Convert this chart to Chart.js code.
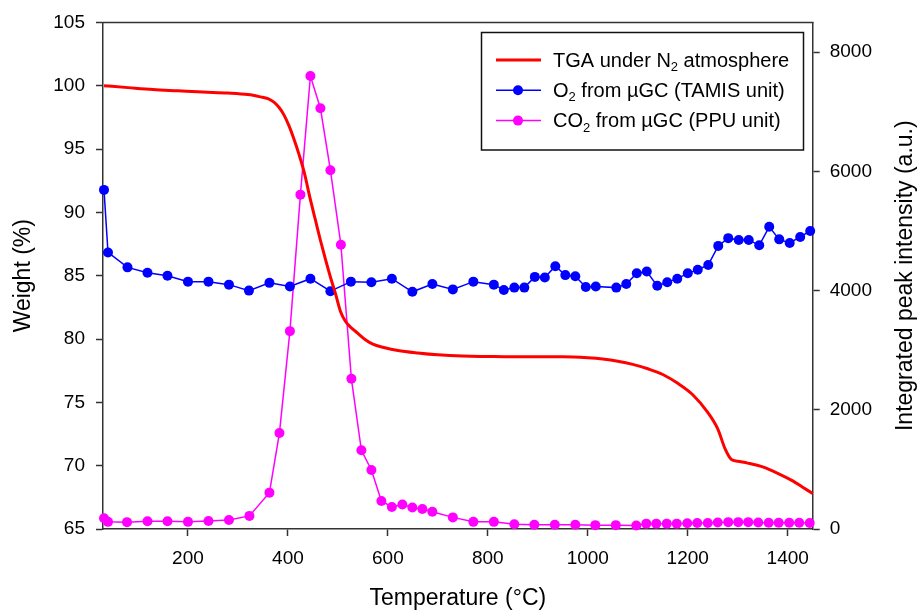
<!DOCTYPE html>
<html>
<head>
<meta charset="utf-8">
<title>TGA / µGC</title>
<script src="https://cdn.jsdelivr.net/npm/chart.js@4.4.1/dist/chart.umd.min.js"></script>
<style>
  html, body { margin: 0; padding: 0; background: #fff; }
  #wrap { width: 920px; height: 610px; }
</style>
</head>
<body>
<div id="wrap"><canvas id="tgaChart" width="920" height="610"></canvas></div>
<script>
// ===================== Data =====================
const tempTGA = [32, 80, 130, 180, 230, 280, 320, 345, 360, 372, 382, 392, 402, 412, 422, 432, 445, 455, 465, 475,
    485, 495, 505, 515, 525, 540, 555, 570, 590, 620, 660, 700, 750, 800, 850, 900, 950, 1000, 1030, 1060,
    1090, 1120, 1150, 1180, 1210, 1240, 1260, 1275, 1287, 1300, 1320, 1350, 1380, 1410, 1430, 1450];
const tgaWeight = [100.0, 99.85, 99.7, 99.6, 99.5, 99.42, 99.3, 99.12, 98.98, 98.7, 98.3, 97.7, 96.85, 95.8, 94.6, 93.25, 91.0, 89.4, 87.8, 86.3,
    84.9, 83.6, 82.2, 81.4, 80.95, 80.45, 79.95, 79.6, 79.35, 79.1, 78.9, 78.75, 78.65, 78.62, 78.6, 78.6, 78.6, 78.52, 78.42, 78.25,
    78.0, 77.65, 77.2, 76.5, 75.6, 74.2, 72.9, 71.3, 70.5, 70.35, 70.2, 69.9, 69.4, 68.8, 68.3, 67.8];

const tempO2 = [32, 40, 79, 119, 159, 200, 241, 282, 322, 363, 404, 445, 485, 526, 567, 608, 649, 689, 730, 771,
    812, 832, 853, 873, 894, 914, 935, 955, 975, 996, 1016, 1057, 1077, 1098, 1118, 1139, 1159, 1179, 1200, 1220,
    1241, 1261, 1281, 1302, 1322, 1343, 1363, 1383, 1404, 1425, 1445];
const o2Values = [5690, 4640, 4390, 4300, 4250, 4150, 4150, 4100, 4000, 4130, 4070, 4200, 3990, 4150, 4140, 4200, 3980, 4110, 4020, 4150,
    4100, 4010, 4050, 4050, 4230, 4220, 4410, 4260, 4240, 4060, 4070, 4050, 4110, 4290, 4320, 4080, 4140, 4200, 4290, 4350,
    4430, 4750, 4880, 4850, 4850, 4760, 5070, 4860, 4800, 4900, 5000];

const tempCO2 = [32, 40, 78, 119, 159, 200, 241, 282, 323, 363, 383, 404, 425, 445, 465, 485, 506, 527, 547, 567,
    587, 608, 629, 649, 669, 689, 730, 771, 812, 853, 893, 934, 975, 1015, 1056, 1097, 1117, 1137, 1158, 1178,
    1199, 1219, 1240, 1260, 1281, 1301, 1321, 1341, 1362, 1382, 1403, 1423, 1444];
const co2Values = [180, 120, 115, 130, 130, 120, 135, 150, 220, 610, 1610, 3320, 5610, 7600, 7060, 6020, 4770, 2520, 1320, 990,
    470, 370, 410, 360, 335, 290, 195, 120, 120, 80, 70, 70, 70, 65, 65, 60, 90, 90, 90, 90,
    95, 100, 100, 110, 115, 115, 115, 110, 105, 105, 105, 105, 100];

const xTicks = [200, 400, 600, 800, 1000, 1200, 1400];
const weightTicks = [65, 70, 75, 80, 85, 90, 95, 100, 105];
const intensityTicks = [0, 2000, 4000, 6000, 8000];

// legend rows: [text, isSubscript]
const legendRows = [
    { color: '#ff0000', marker: false, parts: [['TGA under N', false], ['2', true], [' atmosphere', false]] },
    { color: '#0000ff', marker: true, parts: [['O', false], ['2', true], [' from µGC (TAMIS unit)', false]] },
    { color: '#ff00ff', marker: true, parts: [['CO', false], ['2', true], [' from µGC (PPU unit)', false]] }
];

const FONT = '"Liberation Sans", Arial, sans-serif';
const AXIS_COLOR = '#333333';

const toPoints = (xs, ys) => xs.map((x, i) => ({ x: x, y: ys[i] }));
const plainLabel = v => String(v);   // no thousands separator

// ===================== Plugins =====================
const framePlugin = {
    id: 'frame',
    afterDraw(chart) {
        const { ctx, chartArea } = chart;
        ctx.save();
        // top frame line
        ctx.strokeStyle = AXIS_COLOR;
        ctx.lineWidth = 1.5;
        ctx.beginPath();
        ctx.moveTo(chartArea.left - 0.75, chartArea.top);
        ctx.lineTo(chartArea.right + 0.75, chartArea.top);
        ctx.stroke();

        // right axis title, reads bottom to top
        ctx.fillStyle = '#000';
        ctx.font = '23px ' + FONT;
        ctx.textAlign = 'center';
        ctx.textBaseline = 'middle';
        ctx.translate(906, (chartArea.top + chartArea.bottom) / 2);
        ctx.rotate(-Math.PI / 2);
        ctx.fillText('Integrated peak intensity (a.u.)', 0, 0);
        ctx.restore();

        // legend box
        const bx = 481.5, by = 32.5, bw = 322, bh = 117.5;
        ctx.save();
        ctx.fillStyle = '#fff';
        ctx.fillRect(bx, by, bw, bh);
        ctx.strokeStyle = '#111';
        ctx.lineWidth = 1.5;
        ctx.strokeRect(bx, by, bw, bh);
        legendRows.forEach((row, i) => {
            const y = 60 + i * 30.3;
            ctx.strokeStyle = row.color;
            ctx.lineWidth = row.marker ? 1.5 : 3;
            ctx.beginPath();
            ctx.moveTo(496, y);
            ctx.lineTo(541, y);
            ctx.stroke();
            if (row.marker) {
                ctx.fillStyle = row.color;
                ctx.beginPath();
                ctx.arc(518, y, 5, 0, Math.PI * 2);
                ctx.fill();
            }
            let x = 553;
            ctx.fillStyle = '#000';
            ctx.textAlign = 'left';
            ctx.textBaseline = 'alphabetic';
            row.parts.forEach(([txt, sub]) => {
                ctx.font = (sub ? '13px ' : '20px ') + FONT;
                ctx.fillText(txt, x, sub ? y + 11 : y + 6.5);
                x += ctx.measureText(txt).width;
            });
        });
        ctx.restore();
    }
};

// ===================== Chart =====================
Chart.defaults.font.family = FONT;
Chart.defaults.color = '#000';

const ctx = document.getElementById('tgaChart').getContext('2d');

const tickGrid = {
    drawOnChartArea: false,
    drawTicks: true,
    tickLength: 7,
    tickColor: AXIS_COLOR,
    tickWidth: 1.5
};

const tgaChart = new Chart(ctx, {
    type: 'scatter',
    data: {
        datasets: [{
            label: 'TGA under N2 atmosphere',
            data: toPoints(tempTGA, tgaWeight),
            yAxisID: 'yW',
            showLine: true,
            borderColor: '#ff0000',
            borderWidth: 3,
            pointRadius: 0,
            cubicInterpolationMode: 'monotone',
            clip: false
        }, {
            label: 'O2 from µGC (TAMIS unit)',
            data: toPoints(tempO2, o2Values),
            yAxisID: 'yI',
            showLine: true,
            borderColor: '#0000ff',
            backgroundColor: '#0000ff',
            borderWidth: 1.5,
            pointRadius: 5,
            pointBorderWidth: 0,
            pointBackgroundColor: '#0000ff',
            clip: false
        }, {
            label: 'CO2 from µGC (PPU unit)',
            data: toPoints(tempCO2, co2Values),
            yAxisID: 'yI',
            showLine: true,
            borderColor: '#ff00ff',
            backgroundColor: '#ff00ff',
            borderWidth: 1.5,
            pointRadius: 5,
            pointBorderWidth: 0,
            pointBackgroundColor: '#ff00ff',
            clip: false
        }]
    },
    options: {
        responsive: false,
        animation: false,
        events: [],
        layout: { padding: { top: 21, right: 0, bottom: 0, left: 0 } },
        plugins: {
            legend: { display: false },
            tooltip: { enabled: false }
        },
        scales: {
            x: {
                type: 'linear',
                position: 'bottom',
                min: 30,
                max: 1450,
                afterBuildTicks: axis => { axis.ticks = xTicks.map(v => ({ value: v })); },
                afterFit: axis => { axis.height = 81; },
                grid: tickGrid,
                border: { color: AXIS_COLOR, width: 1.5 },
                ticks: { font: { size: 19 }, padding: 11, maxRotation: 0, autoSkip: false, callback: plainLabel },
                title: {
                    display: true,
                    text: 'Temperature (°C)',
                    font: { size: 23, lineHeight: 1 },
                    padding: { top: 0, bottom: 0 }
                }
            },
            yW: {
                type: 'linear',
                position: 'left',
                min: 65,
                max: 105,
                afterBuildTicks: axis => { axis.ticks = weightTicks.map(v => ({ value: v })); },
                afterFit: axis => { axis.width = 103; },
                grid: tickGrid,
                border: { color: AXIS_COLOR, width: 1.5 },
                ticks: { font: { size: 19 }, padding: 11, callback: plainLabel },
                title: {
                    display: true,
                    text: 'Weight (%)',
                    font: { size: 23 },
                    padding: { top: 10, bottom: 0 }
                }
            },
            yI: {
                type: 'linear',
                position: 'right',
                min: 0,
                max: 8500,
                afterBuildTicks: axis => { axis.ticks = intensityTicks.map(v => ({ value: v })); },
                afterFit: axis => { axis.width = 107.3; },
                grid: tickGrid,
                border: { color: AXIS_COLOR, width: 1.5 },
                ticks: { font: { size: 19 }, padding: 10, callback: plainLabel }
            }
        }
    },
    plugins: [framePlugin]
});
</script>
</body>
</html>
